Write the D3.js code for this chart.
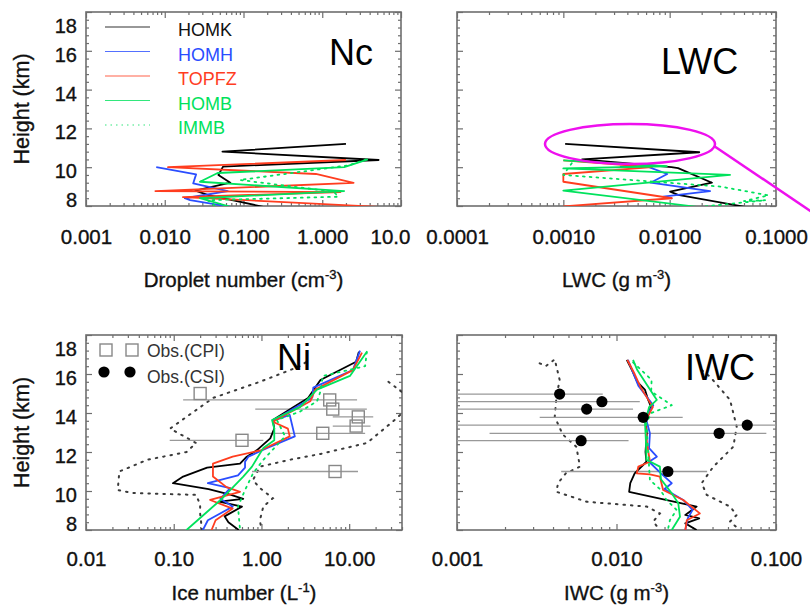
<!DOCTYPE html>
<html>
<head>
<meta charset="utf-8">
<script src="https://cdn.jsdelivr.net/npm/d3@7"></script>
<style>
body { margin: 0; background: #fff; }
svg { font-family: "Liberation Sans", Arial, Helvetica, sans-serif; }
.heavy { stroke: #111; stroke-width: 0.35px; }
</style>
</head>
<body>
<script>
// ---- data: [height (km), value] ----
var seriesNames = ['HOMK', 'HOMH', 'TOPFZ', 'HOMB', 'IMMB'];
var heightTicks = [8, 10, 12, 14, 16, 18];

// droplet number (cm-3)
var ncHOMK = [[11.2,2.0],[10.8,0.054],[10.37,5.2],[10.03,0.055],[9.6,0.048],[9.2,0.068],[8.79,0.0245],[8.57,0.035],[7.96,0.178]];
var ncHOMH = [[10.0,0.0078],[9.63,0.025],[9.17,0.023],[8.77,0.063],[8.4,0.018],[8.3,0.021],[7.96,0.068]];
var ncTOPFZ = [[10.37,2.0],[10.0,0.011],[9.65,0.83],[9.19,2.5],[8.77,0.0076],[8.72,1.7],[8.46,0.017],[7.96,5.2]];
var ncHOMB = [[10.4,3.8],[10.0,1.9],[9.7,0.047],[9.25,0.028],[8.77,1.9],[8.4,0.028],[7.96,0.068]];
var ncIMMB = [[10.4,3.6],[10.1,2.2],[9.34,0.09],[8.74,1.4],[8.48,1.6],[8.3,0.035],[7.96,0.045]];

// LWC (g m-3)
var lwcHOMK = [[11.2,0.00104],[10.77,0.019],[10.4,0.0015],[10.0,0.0104],[9.95,0.012],[9.2,0.025],[8.74,0.0101],[8.57,0.012],[7.96,0.051]];
var lwcHOMH = [[10.03,0.0034],[10.03,0.0062],[9.65,0.0095],[9.2,0.0066],[8.77,0.024],[8.48,0.0087],[8.4,0.0105]];
var lwcTOPFZ = [[10.35,0.001],[10.0,0.0068],[9.65,0.001],[9.25,0.001],[8.4,0.0105],[7.98,0.001]];
var lwcHOMB = [[10.35,0.001],[10.05,0.0094],[9.94,0.001],[9.6,0.037],[8.79,0.001],[7.96,0.018]];
var lwcIMMB = [[10.2,0.0012],[9.6,0.001],[9.0,0.03],[8.55,0.085],[8.25,0.05],[8.3,0.08],[7.96,0.02]];

// ice number (L-1)
var niHOMK = [[17.14,12.9],[16.63,12],[15.69,4.7],[14.77,3.4],[14.3,2.3],[13.64,1.35],[13.2,1.4],[12.7,1.26],[12.1,0.89],[11.76,0.68],[11.4,0.57],[11.2,0.24],[10.74,0.128],[10.4,0.098],[10.1,0.25],[9.8,0.45],[9.6,0.62],[9.45,0.33],[9.2,0.6],[8.7,0.38],[8.4,0.42],[8.0,0.55]];
var niHOMH = [[17.2,13.3],[16.2,11],[15.3,3.9],[14.8,3.8],[13.6,1.35],[13.9,2.1],[12.8,2.4],[12.2,1.15],[11.76,0.71],[11.5,0.65],[11.2,0.65],[10.8,0.54],[10.4,0.245],[10.15,0.44],[9.6,0.34],[9.2,0.47],[8.5,0.245],[8.0,0.215]];
var niTOPFZ = [[17.1,14],[16.2,11],[15.2,4.1],[14.6,3.6],[13.55,1.35],[13.2,2.0],[12.8,2.1],[12.1,1.0],[11.76,0.47],[11.4,0.28],[10.74,0.28],[10.2,0.4],[9.96,0.57],[9.54,0.26],[9.1,0.47],[8.5,0.3],[8.0,0.27]];
var niHOMB = [[17.14,15.9],[15.9,10.2],[15.2,4.3],[14.3,2.75],[13.64,1.32],[13.2,1.4],[12.6,1.4],[12.2,1.05],[11.25,0.78],[10.74,0.62],[10.05,0.44],[9.63,0.36],[9.0,0.25],[8.0,0.14]];
var niIMMB = [[17.14,15.9],[16.4,15.2],[15.9,5.0],[15.1,4.7],[14.6,4.3],[14.07,2.75],[13.64,1.5],[12.8,1.86],[11.6,1.05],[10.9,0.8],[10.05,0.65],[9.2,0.54],[8.0,0.57]];
var niLow = [[16.6,3.2],[16.4,2.75],[15.6,0.96],[14.77,0.28],[13.2,0.091],[12.46,0.18],[12.0,0.14],[11.6,0.05],[11.0,0.024],[10.05,0.023],[9.9,0.034],[9.8,0.18],[9.3,0.2],[8.85,0.2],[8.0,0.21]];
var niHigh = [[15.6,28],[14.9,45],[14.2,45],[13.64,33],[12.46,15.9],[11.9,4.7],[11.6,2.1],[11.25,0.96],[10.56,0.8],[10.15,0.96],[9.63,1.35],[9.2,1.05],[8.5,0.96],[8.0,1.0]];

// CPI observations (ice number)
var cpiHeight = [15.0, 14.67, 14.2, 13.8, 13.33, 12.96, 12.6, 11.0];
var cpiValue = [0.20, 6.0, 6.5, 12.7, 12, 5.0, 0.6, 6.9];
var cpiLow = [0.20, 0.128, 0.85, 6.5, 6.5, 0.96, 0.09, 0.78];
var cpiHigh = [0.20, 12.3, 15.9, 18.8, 17.5, 15.2, 1.05, 12.6];

// IWC (g m-3)
var iwcHOMK = [[16.72,0.0116],[16.2,0.0125],[15.6,0.0135],[15.18,0.0151],[14.67,0.0158],[14.3,0.0165],[13.8,0.0151],[13.0,0.0155],[12.0,0.0152],[11.5,0.0154],[10.9,0.013],[10.4,0.0122],[9.96,0.012],[9.2,0.0318],[8.77,0.027],[8.6,0.033],[8.34,0.027],[8.0,0.0318]];
var iwcHOMH = [[16.72,0.0118],[16.0,0.0128],[15.4,0.0137],[14.4,0.017],[13.8,0.0152],[12.96,0.0162],[12.2,0.016],[11.76,0.0179],[11.5,0.016],[10.9,0.019],[10.4,0.0222],[10.1,0.02],[9.54,0.0262],[9.03,0.03],[8.6,0.028],[8.0,0.027]];
var iwcTOPFZ = [[16.72,0.0117],[16.0,0.013],[15.3,0.0142],[14.3,0.0169],[13.6,0.0152],[12.5,0.0155],[11.5,0.0162],[11.25,0.0137],[10.9,0.0134],[10.85,0.0162],[10.74,0.0187],[10.05,0.0196],[9.54,0.0262],[8.85,0.0333],[8.5,0.0276],[8.0,0.027]];
var iwcHOMB = [[16.72,0.0127],[16.2,0.0135],[15.35,0.0158],[14.67,0.0179],[14.3,0.016],[13.47,0.0151],[12.5,0.0153],[11.6,0.0154],[11.25,0.0187],[10.6,0.019],[9.88,0.0222],[9.37,0.0244],[8.68,0.025],[8.0,0.0222]];
var iwcIMMB = [[16.6,0.0127],[15.7,0.0166],[15.1,0.0165],[14.4,0.0222],[14.0,0.0165],[13.47,0.0154],[12.0,0.0158],[10.56,0.0162],[10.1,0.0187],[9.54,0.0206],[9.03,0.0238],[8.5,0.0216],[8.0,0.021]];
var iwcLow = [[16.55,0.0033],[16.4,0.0036],[16.75,0.0041],[15.7,0.0044],[14.8,0.0042],[13.8,0.0041],[12.9,0.0046],[12.27,0.0056],[11.25,0.0059],[10.9,0.0048],[10.4,0.0043],[9.96,0.0042],[9.45,0.0065],[9.2,0.0155],[8.85,0.0187],[8.43,0.017],[8.0,0.0187]];
var iwcHigh = [[16.2,0.0342],[15.86,0.0386],[14.67,0.0515],[13.3,0.0567],[12.27,0.054],[11.25,0.0405],[10.4,0.0342],[9.8,0.0368],[9.2,0.0515],[8.77,0.0567],[8.43,0.0515],[8.0,0.0594]];

// CSI observations (IWC)
var csiHeight = [14.97, 14.58, 14.2, 13.78, 13.38, 12.96, 12.58, 11.0];
var csiValue = [0.0044, 0.0081, 0.0065, 0.0147, 0.066, 0.044, 0.006, 0.021];
var csiLow = [0.0009, 0.0009, 0.0009, 0.0033, 0.0009, 0.0016, 0.0009, 0.0045];
var csiHigh = [0.0082, 0.014, 0.0127, 0.026, 0.15, 0.087, 0.0119, 0.037];

// tick labels
var ncTickLabels = ['0.001', '0.010', '0.100', '1.000', '10.0'];
var lwcTickLabels = ['0.0001', '0.0010', '0.0100', '0.1000'];
var niTickLabels = ['0.01', '0.10', '1.00', '10.00'];
var iwcTickLabels = ['0.001', '0.010', '0.100'];

// ---- styles ----
var colors = { HOMK: '#000000', HOMH: '#2a4dff', TOPFZ: '#ff3d1f', HOMB: '#00e25c', IMMB: '#00e25c' };
var axisColor = '#6e6e6e';

var svg = d3.select('body').append('svg').attr('width', 810).attr('height', 608);
var defs = svg.append('defs');

function logTicks(dom) {
	var major = [], minor = [];
	var lo = Math.floor(Math.log10(dom[0]) + 1e-9), hi = Math.ceil(Math.log10(dom[1]) - 1e-9);
	for (var e = lo; e <= hi; e++) {
		for (var k = 1; k <= 9; k++) {
			var v = k * Math.pow(10, e);
			if (v < dom[0] * 0.999 || v > dom[1] * 1.001) continue;
			if (k === 1) major.push(v); else minor.push(v);
		}
	}
	return { major: major, minor: minor };
}

function styleAxis(g) {
	g.select('.domain').remove();
	g.selectAll('line').attr('stroke', axisColor).attr('stroke-width', 1.2);
	return g;
}

function panel(cfg) {
	var x = d3.scaleLog().domain(cfg.xDomain).range([cfg.left, cfg.right]);
	var y = d3.scaleLinear().domain([8, 18]).range([cfg.bottom, cfg.top]);
	var lt = logTicks(cfg.xDomain);
	var yMinor = d3.range(8, 18.01, 0.4).filter(function(v) { return Math.abs(v / 2 - Math.round(v / 2)) > 0.01; });

	// ticks on all four sides, pointing inward
	styleAxis(svg.append('g').attr('transform', 'translate(0,' + cfg.bottom + ')')
		.call(d3.axisBottom(x).tickValues(lt.minor).tickSize(-3).tickFormat('')));
	styleAxis(svg.append('g').attr('transform', 'translate(0,' + cfg.top + ')')
		.call(d3.axisTop(x).tickValues(lt.minor).tickSize(-3).tickFormat('')));
	styleAxis(svg.append('g').attr('transform', 'translate(0,' + cfg.top + ')')
		.call(d3.axisTop(x).tickValues(lt.major).tickSize(-6).tickFormat('')));
	var xb = styleAxis(svg.append('g').attr('transform', 'translate(0,' + cfg.bottom + ')')
		.call(d3.axisBottom(x).tickValues(lt.major).tickSize(-6).tickPadding(cfg.xPad)
			.tickFormat(function(d, i) { return cfg.labels[i]; })));
	xb.selectAll('text').attr('font-size', 20.5).attr('fill', '#111').attr('font-family', null)
		.attr('class', 'heavy');
	if (cfg.lastStart) {
		xb.selectAll('text').filter(function(d, i) { return i === cfg.labels.length - 1; })
			.attr('text-anchor', 'start').attr('x', -31);
	}

	styleAxis(svg.append('g').attr('transform', 'translate(' + cfg.left + ',0)')
		.call(d3.axisLeft(y).tickValues(yMinor).tickSize(-3).tickFormat('')));
	styleAxis(svg.append('g').attr('transform', 'translate(' + cfg.right + ',0)')
		.call(d3.axisRight(y).tickValues(yMinor).tickSize(-3).tickFormat('')));
	styleAxis(svg.append('g').attr('transform', 'translate(' + cfg.right + ',0)')
		.call(d3.axisRight(y).tickValues(heightTicks).tickSize(-6).tickFormat('')));
	var yl = styleAxis(svg.append('g').attr('transform', 'translate(' + cfg.left + ',0)')
		.call(d3.axisLeft(y).tickValues(heightTicks).tickSize(-6).tickPadding(9)
			.tickFormat(cfg.yLabels ? d3.format('d') : '')));
	yl.selectAll('text').attr('font-size', 20).attr('fill', '#111').attr('font-family', null)
		.attr('class', 'heavy')
		.attr('dy', function(d) { return d === 18 ? 20 : (d === 8 ? 0 : 10.5); });

	svg.append('rect').attr('x', cfg.left).attr('y', cfg.top)
		.attr('width', cfg.right - cfg.left).attr('height', cfg.bottom - cfg.top)
		.attr('fill', 'none').attr('stroke', axisColor).attr('stroke-width', 1.6);

	defs.append('clipPath').attr('id', 'clip-' + cfg.name).append('rect')
		.attr('x', cfg.left).attr('y', cfg.top)
		.attr('width', cfg.right - cfg.left).attr('height', cfg.bottom - cfg.top);
	var plot = svg.append('g').attr('clip-path', 'url(#clip-' + cfg.name + ')');

	// titles
	var xt = svg.append('text').attr('x', (cfg.left + cfg.right) / 2).attr('y', cfg.titleY)
		.attr('text-anchor', 'middle').attr('font-size', 20.5).attr('fill', '#111').attr('class', 'heavy');
	xt.append('tspan').text(cfg.xTitle[0]);
	xt.append('tspan').attr('dy', -8).attr('font-size', 13).text(cfg.xTitle[1]);
	xt.append('tspan').attr('dy', 8).text(')');
	if (cfg.yLabels) {
		svg.append('text').attr('transform', 'translate(29,' + (cfg.top + cfg.bottom) / 2 + ') rotate(-90)')
			.attr('text-anchor', 'middle').attr('font-size', 21.5).attr('fill', '#111')
			.attr('class', 'heavy').text('Height (km)');
	}
	svg.append('text').attr('x', cfg.nameX).attr('y', cfg.nameY).attr('font-size', 36)
		.attr('fill', '#000').text(cfg.name);

	var line = d3.line().x(function(d) { return x(d[1]); }).y(function(d) { return y(d[0]); });
	return { x: x, y: y, plot: plot, line: line };
}

function drawModels(p, data) {
	seriesNames.forEach(function(n, i) {
		p.plot.append('path').datum(data[i]).attr('d', p.line)
			.attr('fill', 'none').attr('stroke', colors[n]).attr('stroke-width', 1.8)
			.attr('stroke-linejoin', 'round')
			.attr('stroke-dasharray', n === 'IMMB' ? '1.8,5' : null)
			.attr('stroke-linecap', n === 'IMMB' ? 'round' : null);
	});
}

function drawEnvelope(p, data) {
	p.plot.append('path').datum(data).attr('d', p.line)
		.attr('fill', 'none').attr('stroke', '#3a3a3a').attr('stroke-width', 2)
		.attr('stroke-dasharray', '1.5,6').attr('stroke-linecap', 'round');
}

// ---- panels ----
var pNc = panel({ name: 'Nc', left: 86, right: 401, top: 12, bottom: 206, xDomain: [0.001, 10],
	labels: ncTickLabels, xPad: 23, lastStart: true, yLabels: true, titleY: 287,
	xTitle: ['Droplet number (cm', '-3'], nameX: 329, nameY: 65 });
var pLwc = panel({ name: 'LWC', left: 457, right: 776, top: 12, bottom: 206, xDomain: [0.0001, 0.1],
	labels: lwcTickLabels, xPad: 23, yLabels: false, titleY: 287,
	xTitle: ['LWC (g m', '-3'], nameX: 661, nameY: 74 });
var pNi = panel({ name: 'Ni', left: 86, right: 402, top: 335, bottom: 530, xDomain: [0.01, 40],
	labels: niTickLabels, xPad: 21, yLabels: true, titleY: 600,
	xTitle: ['Ice number (L', '-1'], nameX: 277, nameY: 370 });
var pIwc = panel({ name: 'IWC', left: 457, right: 776, top: 335, bottom: 530, xDomain: [0.001, 0.1],
	labels: iwcTickLabels, xPad: 21, yLabels: false, titleY: 600,
	xTitle: ['IWC (g m', '-3'], nameX: 685, nameY: 380 });

drawModels(pNc, [ncHOMK, ncHOMH, ncTOPFZ, ncHOMB, ncIMMB]);
drawModels(pLwc, [lwcHOMK, lwcHOMH, lwcTOPFZ, lwcHOMB, lwcIMMB]);

// Ni: envelopes, observations, models
drawEnvelope(pNi, niLow);
drawEnvelope(pNi, niHigh);
cpiHeight.forEach(function(h, i) {
	pNi.plot.append('line').attr('x1', pNi.x(cpiLow[i])).attr('x2', pNi.x(cpiHigh[i]))
		.attr('y1', pNi.y(h)).attr('y2', pNi.y(h)).attr('stroke', '#999').attr('stroke-width', 1.3);
});
drawModels(pNi, [niHOMK, niHOMH, niTOPFZ, niHOMB, niIMMB]);
cpiHeight.forEach(function(h, i) {
	pNi.plot.append('rect').attr('x', pNi.x(cpiValue[i]) - 6).attr('y', pNi.y(h) - 6)
		.attr('width', 12).attr('height', 12).attr('fill', 'none')
		.attr('stroke', '#888').attr('stroke-width', 1.4);
});

// IWC: envelopes, observations, models
drawEnvelope(pIwc, iwcLow);
drawEnvelope(pIwc, iwcHigh);
csiHeight.forEach(function(h, i) {
	pIwc.plot.append('line').attr('x1', pIwc.x(csiLow[i])).attr('x2', pIwc.x(csiHigh[i]))
		.attr('y1', pIwc.y(h)).attr('y2', pIwc.y(h)).attr('stroke', '#999').attr('stroke-width', 1.3);
});
drawModels(pIwc, [iwcHOMK, iwcHOMH, iwcTOPFZ, iwcHOMB, iwcIMMB]);
csiHeight.forEach(function(h, i) {
	pIwc.plot.append('circle').attr('cx', pIwc.x(csiValue[i])).attr('cy', pIwc.y(h))
		.attr('r', 5.6).attr('fill', '#000');
});

// ---- legends ----
var leg = svg.append('g');
seriesNames.forEach(function(n, i) {
	var yy = 27 + i * 24.5;
	leg.append('line').attr('x1', 105).attr('x2', 150).attr('y1', yy).attr('y2', yy)
		.attr('stroke', colors[n]).attr('stroke-width', 1.2).attr('opacity', 0.8)
		.attr('stroke-dasharray', n === 'IMMB' ? '1.5,4' : null);
	leg.append('text').attr('x', 178).attr('y', yy + 9).attr('font-size', 18)
		.attr('fill', n === 'HOMK' ? '#111' : colors[n]).text(n);
});

var obsLeg = svg.append('g');
[106, 132].forEach(function(cx) {
	obsLeg.append('rect').attr('x', cx - 6).attr('y', 344).attr('width', 12).attr('height', 12)
		.attr('fill', 'none').attr('stroke', '#888').attr('stroke-width', 1.4);
	obsLeg.append('circle').attr('cx', cx - 2).attr('cy', 372).attr('r', 5.6).attr('fill', '#000');
});
obsLeg.append('text').attr('x', 147).attr('y', 357).attr('font-size', 17.5).attr('fill', '#333').text('Obs.(CPI)');
obsLeg.append('text').attr('x', 147).attr('y', 383).attr('font-size', 17.5).attr('fill', '#333').text('Obs.(CSI)');

// ---- highlight ----
svg.append('ellipse').attr('cx', 630).attr('cy', 144).attr('rx', 85).attr('ry', 20)
	.attr('fill', 'none').attr('stroke', '#ee10ee').attr('stroke-width', 2.5);
svg.append('line').attr('x1', 714).attr('y1', 146).attr('x2', 812).attr('y2', 212)
	.attr('stroke', '#ee10ee').attr('stroke-width', 2.5);
</script>
</body>
</html>
